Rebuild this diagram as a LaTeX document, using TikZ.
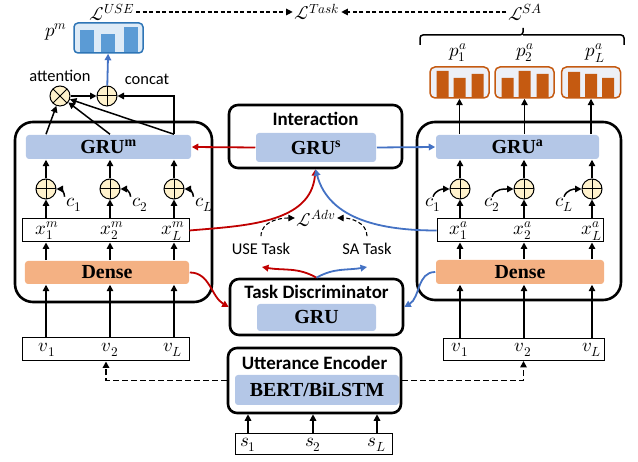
\documentclass[tikz,border=0pt]{standalone}
\usepackage{fontspec}
\usepackage{unicode-math}
\setmainfont{Liberation Serif}
\newfontfamily\calib{Carlito}
\usetikzlibrary{arrows.meta}

\definecolor{grufill}{HTML}{B4C7E7}
\definecolor{densefill}{HTML}{F4B183}
\definecolor{plusfill}{HTML}{FFF2CC}
\definecolor{linkred}{HTML}{C00000}
\definecolor{linkblue}{HTML}{4472C4}
\definecolor{barblue}{HTML}{5B9BD5}
\definecolor{barblueline}{HTML}{2E75B6}
\definecolor{probfill}{HTML}{DEEBF7}
\definecolor{barorange}{HTML}{C55A11}
\definecolor{orangefill}{HTML}{EDF0F7}

\begin{document}
\begin{tikzpicture}[->, >={Triangle[length=6.5bp, width=6.5bp]}, x=1bp, y=1bp, line width=1.5bp]
		\tikzstyle{bigframe}=[draw, line width=2.6bp, rounded corners=18bp, inner sep=0pt]
		\tikzstyle{block}=[draw, line width=2.6bp, rounded corners=9bp, inner sep=0pt]
		\tikzstyle{gru}=[fill=grufill, rounded corners=3bp, inner sep=0pt, font=\bfseries\fontsize{20}{20}\selectfont]
		\tikzstyle{dense}=[fill=densefill, rounded corners=3bp, inner sep=0pt, font=\bfseries\fontsize{20}{20}\selectfont]
		\tikzstyle{seqbox}=[draw, fill=white, line width=1bp, inner sep=0pt]
		\tikzstyle{headline}=[font=\calib\bfseries\fontsize{19}{20}\selectfont]
		\tikzstyle{txt}=[font=\calib\fontsize{16.5}{17}\selectfont]
		\tikzstyle{sym}=[inner sep=1bp, font=\fontsize{19}{19}\selectfont]
		\tikzstyle{lossdash}=[line width=1.1bp, dash pattern=on 4bp off 2.5bp]
		\tikzstyle{encdash}=[line width=1.8bp, dash pattern=on 6bp off 3bp]
		\tikzstyle{oplus}=[circle, draw, fill=plusfill, minimum size=20bp, inner sep=0pt, line width=1bp, path picture={\draw[-, line width=1bp] (path picture bounding box.north) -- (path picture bounding box.south) (path picture bounding box.west) -- (path picture bounding box.east);}]
		\tikzstyle{otimes}=[circle, draw, fill=plusfill, minimum size=20bp, inner sep=0pt, line width=1bp, path picture={\draw[-, line width=1bp] (path picture bounding box.north west) -- (path picture bounding box.south east) (path picture bounding box.south west) -- (path picture bounding box.north east);}]
		\tikzstyle{probm}=[draw=barblueline, fill=probfill, line width=1.5bp, rounded corners=4bp, minimum width=69bp, minimum height=30bp]
		\tikzstyle{proba}=[draw=barorange, fill=orangefill, line width=1.5bp, rounded corners=5bp, minimum width=59bp, minimum height=31bp]
		
		\useasboundingbox (0,0) rectangle (638,462);
		
		% Rahmen und Bloecke
		\node[bigframe, minimum width=197bp, minimum height=180bp] (mbox) at (113.5,250) {};
		\node[bigframe, minimum width=204bp, minimum height=178bp] (abox) at (519,251) {};
		\node[block, minimum width=173bp, minimum height=63bp] (inter) at (315.5,325.5) {};
		\node[block, minimum width=173bp, minimum height=56bp] (disc) at (316.5,155) {};
		\node[block, minimum width=173bp, minimum height=65bp] (enc) at (314.5,81.5) {};
		\node[headline] (intertxt) at (315.5,343) {Interaction};
		\node[headline] (disctxt) at (316.5,170) {Task Discriminator};
		\node[headline] (enctxt) at (314.5,99) {Utterance Encoder};
		
		% GRU- und Dense-Schichten
		\node[gru, minimum width=165bp, minimum height=24bp] (grum) at (108.5,315) {GRU\textsuperscript{m}};
		\node[gru, minimum width=163bp, minimum height=24bp] (grua) at (517.5,315) {GRU\textsuperscript{a}};
		\node[gru, minimum width=120bp, minimum height=29bp] (grus) at (316,314.5) {GRU\textsuperscript{s}};
		\node[gru, minimum width=119bp, minimum height=27bp] (grud) at (316.5,144.5) {GRU};
		\node[gru, minimum width=164bp, minimum height=30bp] (bert) at (317,72) {BERT/BiLSTM};
		\node[dense, minimum width=164bp, minimum height=23bp] (densem) at (107,189.5) {Dense};
		\node[dense, minimum width=168bp, minimum height=24bp] (densea) at (520,190) {Dense};
		
		% Sequenzen
		\node[seqbox, minimum width=166bp, minimum height=23bp] (xm) at (106,231.5) {};
		\node[seqbox, minimum width=166bp, minimum height=23bp] (xa) at (520,231.5) {};
		\node[seqbox, minimum width=166bp, minimum height=23bp] (vm) at (106,112.5) {};
		\node[seqbox, minimum width=161bp, minimum height=22bp] (va) at (523.5,112.5) {};
		\node[seqbox, minimum width=157bp, minimum height=21bp] (sbox) at (313.5,17.5) {};
		
		\node[sym] (xm1) at (47,231) {$x_1^m$};
		\node[sym] (xm2) at (112,231) {$x_2^m$};
		\node[sym] (xmL) at (173,231) {$x_L^m$};
		\node[sym] (xa1) at (459,231) {$x_1^a$};
		\node[sym] (xa2) at (523,231) {$x_2^a$};
		\node[sym] (xaL) at (592,231) {$x_L^a$};
		\node[sym] (vm1) at (47,112) {$v_1$};
		\node[sym] (vm2) at (110,112) {$v_2$};
		\node[sym] (vmL) at (173,112) {$v_L$};
		\node[sym] (va1) at (460,112) {$v_1$};
		\node[sym] (va2) at (523,112) {$v_2$};
		\node[sym] (vaL) at (592,112) {$v_L$};
		\node[sym] (s1) at (248,17) {$s_1$};
		\node[sym] (s2) at (313,17) {$s_2$};
		\node[sym] (sL) at (377,17) {$s_L$};
		
		% Kontext-Addition
		\node[oplus] (om1) at (46,273) {};
		\node[oplus] (om2) at (110,273) {};
		\node[oplus] (omL) at (174,273) {};
		\node[oplus] (oa1) at (460,273) {};
		\node[oplus] (oa2) at (524,273) {};
		\node[oplus] (oaL) at (592,273) {};
		\node[sym] (cm1) at (74,257) {$c_1$};
		\node[sym] (cm2) at (140,257) {$c_2$};
		\node[sym] (cmL) at (204,257) {$c_L$};
		\node[sym] (ca1) at (433,257) {$c_1$};
		\node[sym] (ca2) at (492,257) {$c_2$};
		\node[sym] (caL) at (564,257) {$c_L$};
		
		% Ausgabe links
		\node[otimes] (att) at (60,366) {};
		\node[oplus] (cat) at (107,366) {};
		\node[txt] at (60,386) {attention};
		\node[txt] at (147,383) {concat};
		\node[probm] (pm) at (108.5,424) {};
		\fill[barblue] (80,410) rectangle (94,432);
		\fill[barblue] (101,410) rectangle (115,428);
		\fill[barblue] (124,410) rectangle (138,435);
		\node[sym] (pmtxt) at (56,430) {$p^m$};
		
		% Ausgabe rechts
		\node[proba] (pa1) at (459.5,379.5) {};
		\node[proba] (pa2) at (524.5,379.5) {};
		\node[proba] (paL) at (591,379.5) {};
		\fill[barorange] (436.5,365) rectangle (448.5,391) (453.5,365) rectangle (465.5,384) (471.5,365) rectangle (483.5,388);
		\fill[barorange] (501.5,365) rectangle (513.5,384) (518.5,365) rectangle (530.5,391) (536.5,365) rectangle (548.5,388);
		\fill[barorange] (568,365) rectangle (580,390) (585,365) rectangle (597,388) (602,365) rectangle (614,384);
		\node[sym] (pa1txt) at (458,409) {$p_1^a$};
		\node[sym] (pa2txt) at (525,409) {$p_2^a$};
		\node[sym] (paLtxt) at (595,409) {$p_L^a$};
		\draw[-, rounded corners=3bp] (420,417) |- (523,427) -- (523,434);
		\draw[-, rounded corners=3bp] (624,417) |- (523,427);
		
		% Verluste
		\node[sym] (luse) at (112,450) {$\mathcal{L}^{USE}$};
		\node[sym] (ltask) at (317,450) {$\mathcal{L}^{Task}$};
		\node[sym] (lsa) at (525,450) {$\mathcal{L}^{SA}$};
		\draw[lossdash] (luse.east) -- (ltask.west);
		\draw[lossdash] (lsa.west) -- (ltask.east);
		
		\node[txt] (usetask) at (261,213) {USE Task};
		\node[txt] (satask) at (367,213) {SA Task};
		\node[sym] (ladv) at (316,244) {$\mathcal{L}^{Adv}$};
		\draw[lossdash] ([yshift=3bp]usetask.north) to[out=90, in=180] (ladv.west);
		\draw[lossdash] ([yshift=3bp]satask.north) to[out=90, in=0] (ladv.east);
		
		% Spalten links
		\draw (vm.north -| om1) -- (densem.south -| om1);
		\draw (vm.north -| om2) -- (densem.south -| om2);
		\draw (vm.north -| omL) -- (densem.south -| omL);
		\draw (densem.north -| om1) -- (xm.south -| om1);
		\draw (densem.north -| om2) -- (xm.south -| om2);
		\draw (densem.north -| omL) -- (xm.south -| omL);
		\draw (xm.north -| om1) -- (om1);
		\draw (xm.north -| om2) -- (om2);
		\draw (xm.north -| omL) -- (omL);
		\draw (om1) -- (grum.south -| om1);
		\draw (om2) -- (grum.south -| om2);
		\draw (omL) -- (grum.south -| omL);
		\draw (cm1.north west) to[out=90, in=0] (om1);
		\draw (cm2.north west) to[out=90, in=0] (om2);
		\draw (cmL.north west) to[out=90, in=0] (omL);
		
		% Spalten rechts
		\draw (va.north -| oa1) -- (densea.south -| oa1);
		\draw (va.north -| oa2) -- (densea.south -| oa2);
		\draw (va.north -| oaL) -- (densea.south -| oaL);
		\draw (densea.north -| oa1) -- (xa.south -| oa1);
		\draw (densea.north -| oa2) -- (xa.south -| oa2);
		\draw (densea.north -| oaL) -- (xa.south -| oaL);
		\draw (xa.north -| oa1) -- (oa1);
		\draw (xa.north -| oa2) -- (oa2);
		\draw (xa.north -| oaL) -- (oaL);
		\draw (oa1) -- (grua.south -| oa1);
		\draw (oa2) -- (grua.south -| oa2);
		\draw (oaL) -- (grua.south -| oaL);
		\draw (ca1.north) to[out=70, in=180] (oa1);
		\draw (ca2.north) to[out=70, in=180] (oa2);
		\draw (caL.north) to[out=70, in=180] (oaL);
		\draw (grua.north -| pa1) -- (pa1);
		\draw (grua.north -| pa2) -- (pa2);
		\draw (grua.north -| paL) -- (paL);
		
		% Attention und Concat
		\draw (grum.north -| om1) -- (att);
		\draw (grum.north -| om2) -- (att);
		\draw (grum.north -| omL) -- (att);
		\draw (grum.north -| omL) |- (cat);
		\draw (att) -- (cat);
		\draw[linkblue, line width=1.8bp] (cat) -- (pm);
		
		% Verbindungen zwischen den Aufgaben
		\draw[linkred, line width=1.8bp] (grus.west) -- (grum.east);
		\draw[linkblue, line width=1.8bp] (grus.east) -- (grua.west);
		\draw[linkred, line width=1.8bp] (xm.east) to[out=5, in=-95] (inter.south);
		\draw[linkblue, line width=1.8bp] (xa.west) to[out=180, in=-75] (inter.south);
		\draw[linkred, line width=1.8bp] (densem.east) to[out=0, in=150] (disc.west);
		\draw[linkblue, line width=1.8bp] (densea.west) to[out=180, in=30] (disc.east);
		
		% Diskriminator
		\coordinate (usetip) at (262,195);
		\coordinate (satip) at (367,195);
		\draw[linkred, line width=1.8bp] (disc.north) to[out=150, in=-10] (usetip);
		\draw[linkblue, line width=1.8bp] (disc.north) to[out=30, in=190] (satip);
		
		% Encoder
		\draw (sbox.north -| s1) -- (enc.south -| s1);
		\draw (sbox.north -| s2) -- (enc.south -| s2);
		\draw (sbox.north -| sL) -- (enc.south -| sL);
		\draw[encdash] (enc.west) -| (vm.south);
		\draw[encdash] (enc.east) -| (va.south);
		
	\end{tikzpicture}
\end{document}
